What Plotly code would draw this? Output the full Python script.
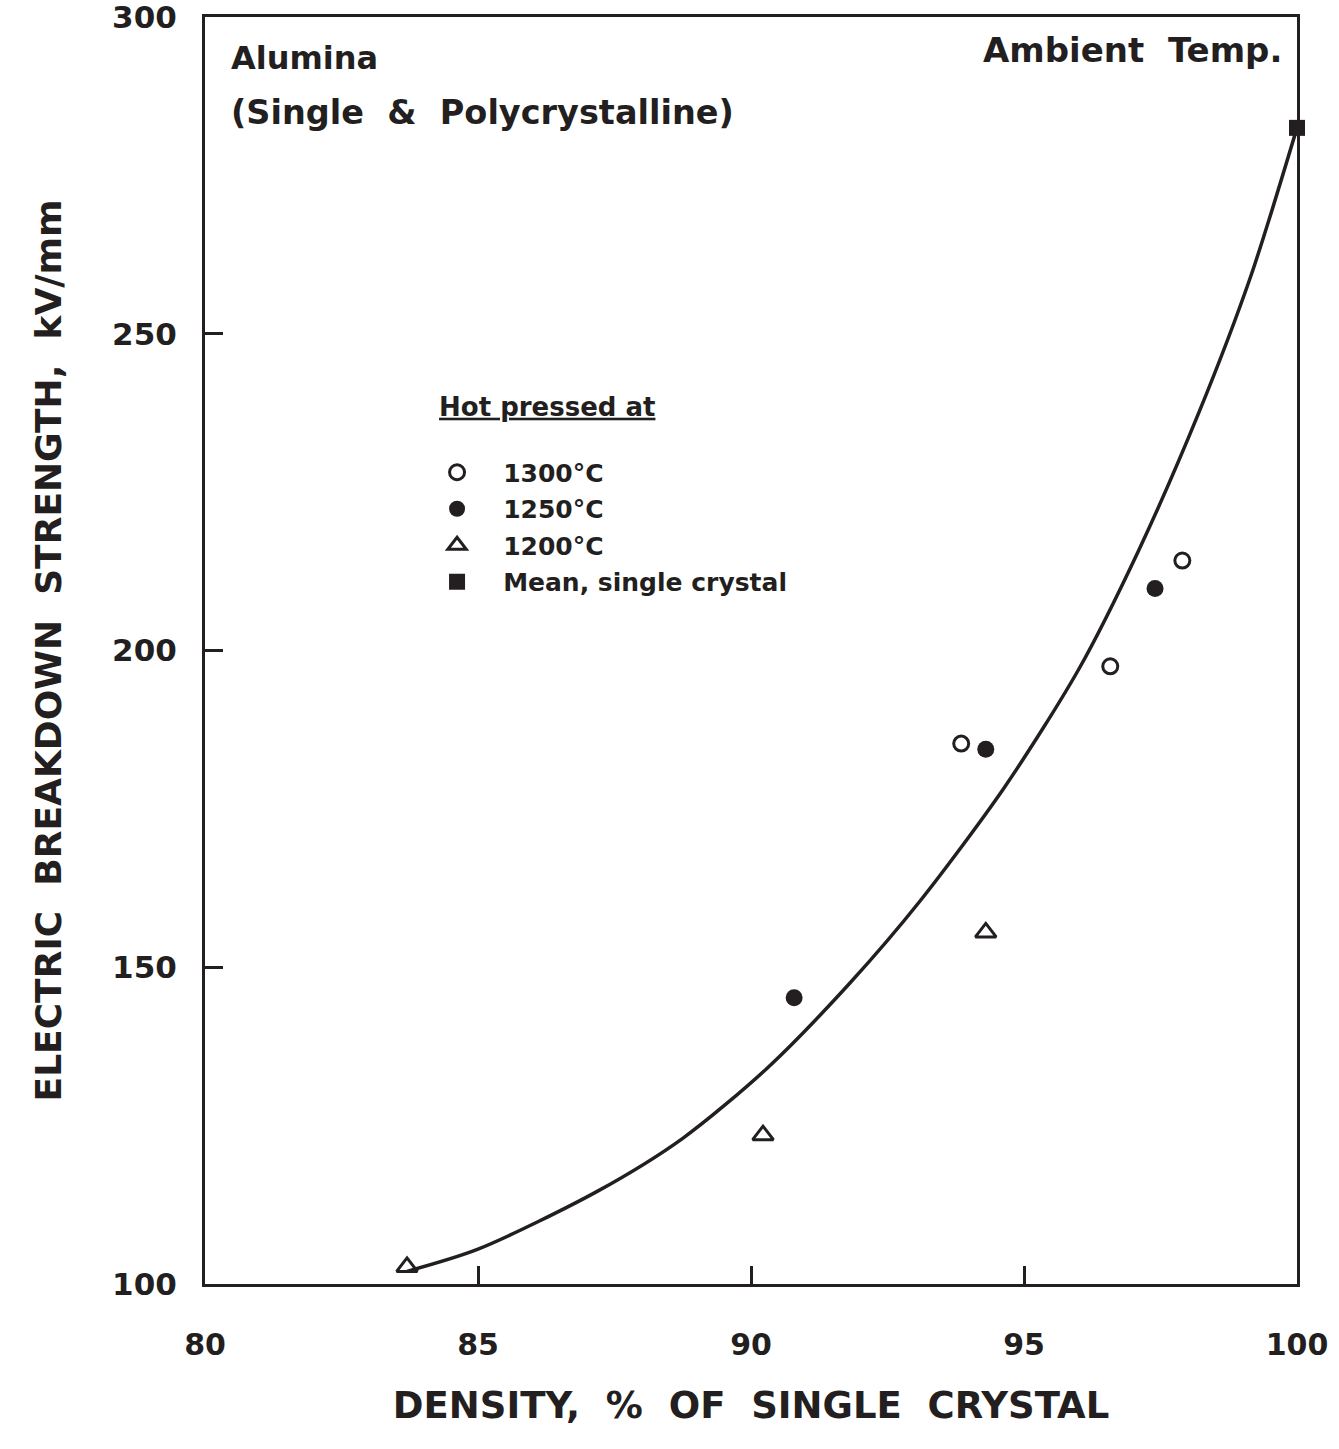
import plotly.graph_objects as go

# ---- data ----
x_1300 = [93.85, 96.58, 97.9]
y_1300 = [185.3, 197.5, 214.2]

x_1250 = [90.79, 94.3, 97.4]
y_1250 = [145.2, 184.4, 209.8]

x_1200 = [83.7, 90.22, 94.3]
y_1200 = [102.7, 123.5, 155.5]

x_single = [100.0]
y_single = [282.5]

curve_x = [83.7, 85.0, 87.2, 88.75, 90.3, 91.8, 93.1, 94.65, 96.0, 97.1, 98.2, 99.15, 100.0]
curve_y = [102.0, 105.5, 114.7, 123.0, 134.1, 147.4, 160.5, 178.5, 197.0, 215.8, 237.5, 259.0, 282.5]

x_ticks = [80, 85, 90, 95, 100]
y_ticks = [100, 150, 200, 250, 300]

INK = "#231f20"
FONT = "DejaVu Sans"
NB = "\u00a0"
bold = "bold"

fig = go.Figure()

fig.add_trace(go.Scatter(
    x=curve_x, y=curve_y, mode="lines", line=dict(color=INK, width=3.5, shape="spline", smoothing=0.8),
    showlegend=False, hoverinfo="skip", cliponaxis=False))

legend_font = dict(family=FONT, size=25, color=INK, weight=bold)

fig.add_trace(go.Scatter(
    x=x_1300, y=y_1300, mode="markers", name=NB * 3 + "1300°C", legendgroup="a",
    marker=dict(symbol="circle-open", size=15, color=INK, line=dict(width=3, color=INK)),
    cliponaxis=False))
fig.add_trace(go.Scatter(
    x=x_1250, y=y_1250, mode="markers", name=NB * 3 + "1250°C", legendgroup="b",
    marker=dict(symbol="circle", size=17, color=INK),
    cliponaxis=False))
fig.add_trace(go.Scatter(
    x=x_1200, y=y_1200, mode="markers", name=NB * 3 + "1200°C", legendgroup="c",
    marker=dict(symbol="triangle-up-open", size=18, color=INK, line=dict(width=3, color=INK)),
    cliponaxis=False))
fig.add_trace(go.Scatter(
    x=x_single, y=y_single, mode="markers", name=NB * 3 + "Mean, single crystal", legendgroup="d",
    marker=dict(symbol="square", size=16, color=INK),
    cliponaxis=False))

fig.update_layout(
    width=1339, height=1449,
    margin=dict(l=205, r=42, t=17, b=165, autoexpand=False),
    paper_bgcolor="white", plot_bgcolor="white",
    font=dict(family=FONT, color=INK),
    showlegend=True,
    legend=dict(
        x=0.2125, y=0.712, xanchor="left", yanchor="top",
        bgcolor="rgba(0,0,0,0)", borderwidth=0,
        font=legend_font,
        title=dict(text="<u>Hot pressed at</u><br> ", font=dict(family=FONT, size=26, color=INK, weight=bold), side="top"),
        tracegroupgap=1, itemwidth=30,
    ),
    xaxis=dict(
        range=[80, 100], tickvals=x_ticks, ticktext=[str(v) for v in x_ticks],
        showgrid=False, zeroline=False, automargin=False,
        showline=True, linecolor=INK, linewidth=3, mirror=True,
        ticks="inside", ticklen=18, tickwidth=3, tickcolor=INK,
        tickfont=dict(family=FONT, size=30, color=INK, weight=bold),
        ticklabelstandoff=32, ticklabeloverflow="allow",
        title=dict(text="DENSITY,  %  OF  SINGLE  CRYSTAL", font=dict(family=FONT, size=37, color=INK, weight=bold), standoff=32),
    ),
    yaxis=dict(
        range=[100, 300], tickvals=y_ticks, ticktext=[str(v) for v in y_ticks],
        showgrid=False, zeroline=False, automargin=False,
        showline=True, linecolor=INK, linewidth=3, mirror=True,
        ticks="inside", ticklen=18, tickwidth=3, tickcolor=INK,
        tickfont=dict(family=FONT, size=31, color=INK, weight=bold),
        ticklabelstandoff=19, ticklabeloverflow="allow",
        title=dict(text="ELECTRIC  BREAKDOWN  STRENGTH,  kV/mm", font=dict(family=FONT, size=36, color=INK, weight=bold), standoff=40),
    ),
    annotations=[
        dict(text="Alumina", xref="paper", yref="paper", x=0.022, y=0.968, xanchor="left", yanchor="middle",
             showarrow=False, font=dict(family=FONT, size=32, color=INK, weight=bold)),
        dict(text="(Single  &  Polycrystalline)", xref="paper", yref="paper", x=0.022, y=0.9245, xanchor="left", yanchor="middle",
             showarrow=False, font=dict(family=FONT, size=33.5, color=INK, weight=bold)),
        dict(text="Ambient  Temp.", xref="paper", yref="paper", x=0.988, y=0.974, xanchor="right", yanchor="middle",
             showarrow=False, font=dict(family=FONT, size=34, color=INK, weight=bold)),
    ],
)

fig.write_html("out.html")
